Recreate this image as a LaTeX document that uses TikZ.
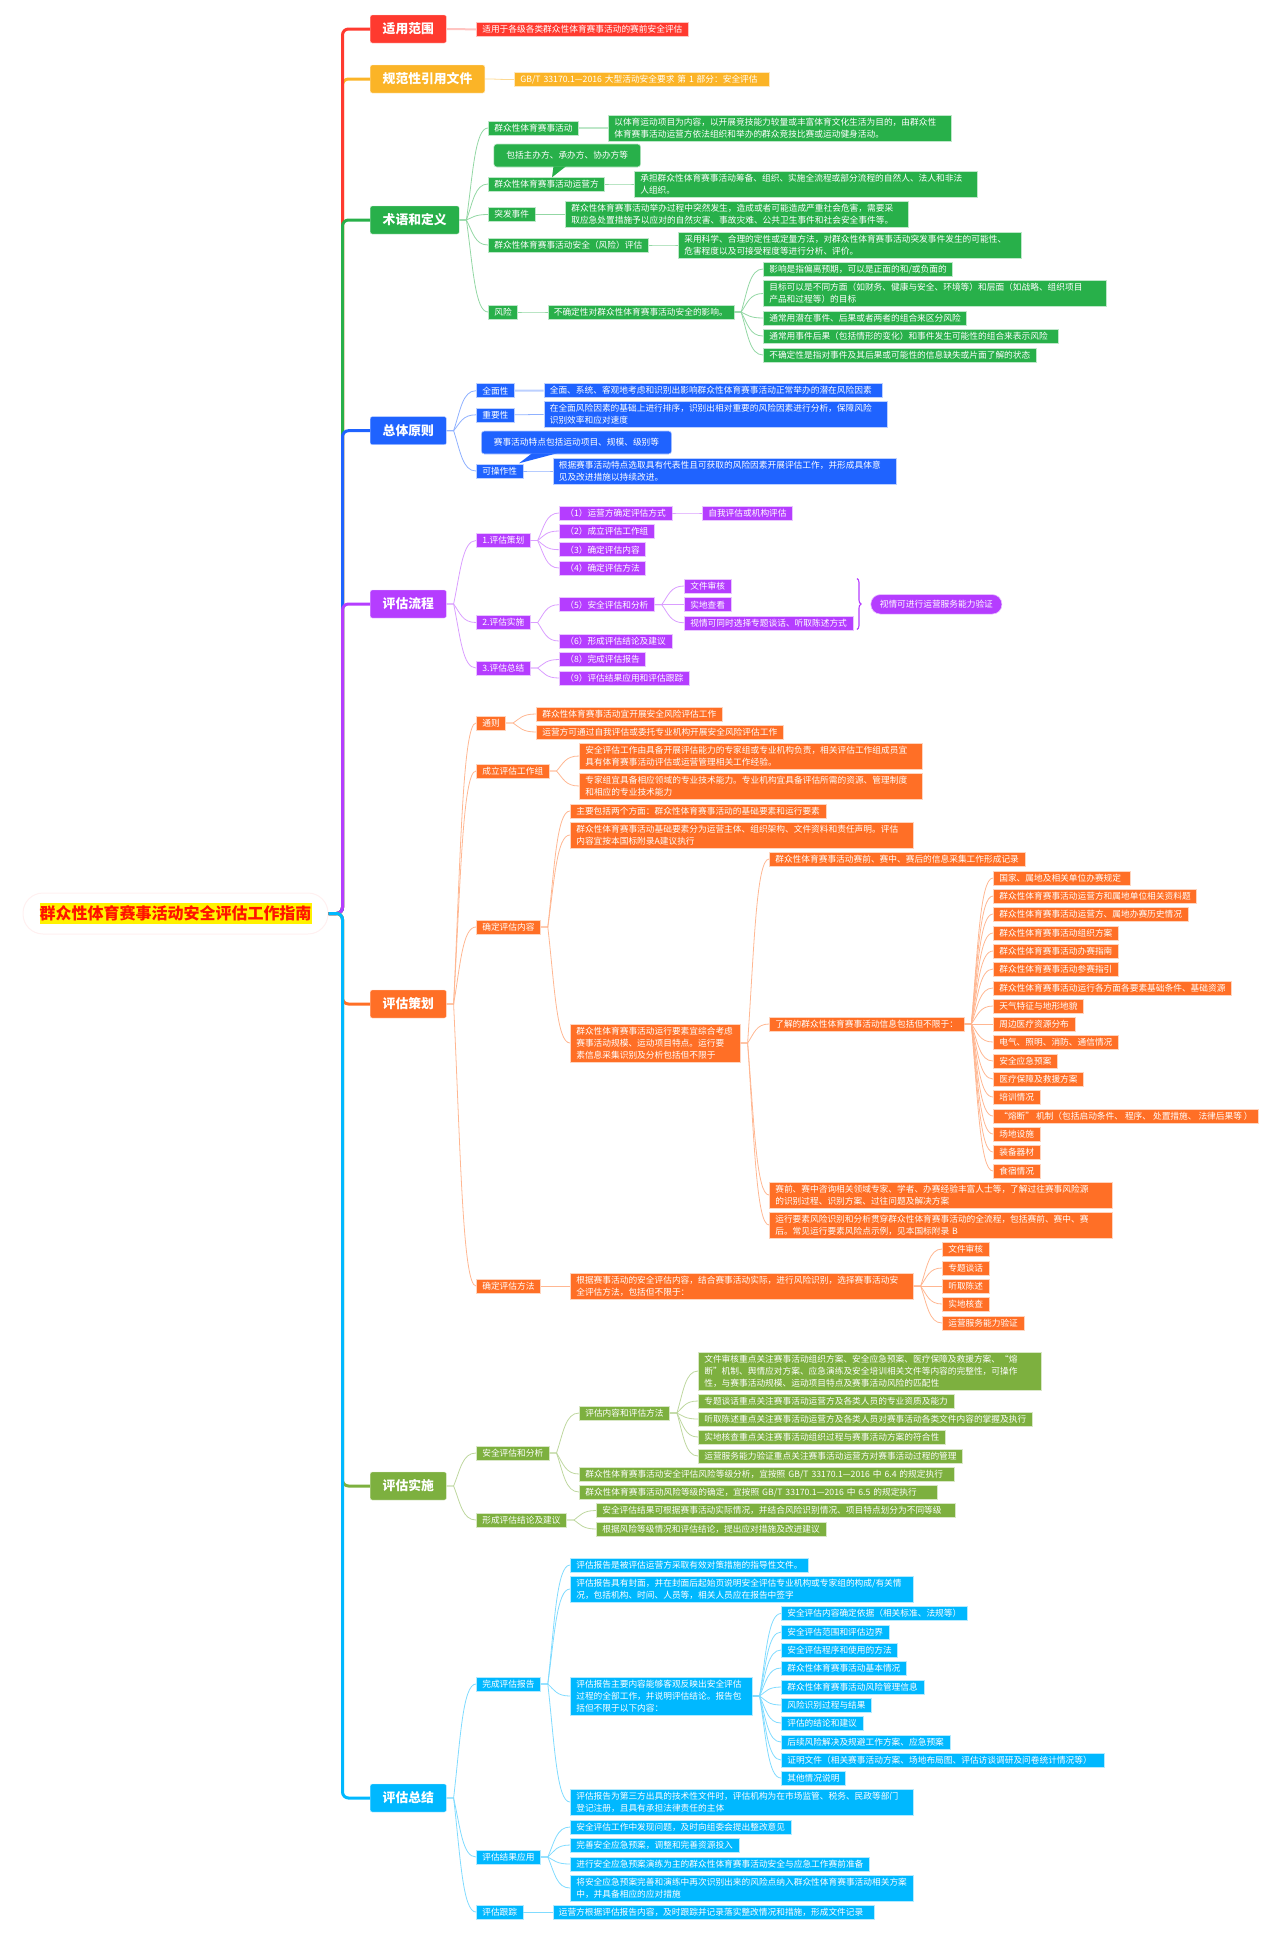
\documentclass[tikz,border=0pt]{standalone}
\usepackage{fontspec}
\setmainfont{Noto Sans CJK SC}
\usetikzlibrary{calc,decorations.pathreplacing}
\definecolor{redc}{HTML}{FF3A2F}
\definecolor{amberc}{HTML}{FBB427}
\definecolor{greenc}{HTML}{28B04A}
\definecolor{bluec}{HTML}{1F63FF}
\definecolor{purplec}{HTML}{B53DFF}
\definecolor{orangec}{HTML}{FF6F26}
\definecolor{olivec}{HTML}{7DB03F}
\definecolor{cyanc}{HTML}{00B8FF}
\newcommand{\itemstrut}{\rule[-2.7pt]{0pt}{12pt}}
\begin{document}
\begin{tikzpicture}[x=1pt,y=-1pt,
    topic/.style={anchor=west,fill=branch,draw=branch!25,rounded corners=2pt,text=white,inner xsep=12.5pt,inner ysep=0pt,minimum height=28pt,text height=11pt,text depth=1.2pt,font=\fontsize{12.8}{15}\selectfont\bfseries},
    item/.style={anchor=west,fill=branch,draw=branch!30,line width=0.6pt,text=white,inner xsep=6pt,inner ysep=1pt,minimum height=14pt,align=left,font=\fontsize{8.7}{12}\selectfont,execute at begin node=\itemstrut,execute at end node=\itemstrut},
    wrap/.style={text width=#1},
    note/.style={item,rounded corners=3pt,inner xsep=12.5pt,minimum height=23pt},
    pill/.style={item,rounded corners=9.5pt,inner xsep=9pt,minimum height=19.5pt},
    trunk/.style={draw=branch,line width=3pt,rounded corners=6pt,to path={(\tikztostart.east) -- ++(14,0) |- (\tikztotarget.west)}},
    twig/.style={draw=branch!50,line width=0.8pt,to path={let \p1=(\tikztostart.east), \p2=(\tikztotarget.west) in (\p1) -- (\x1+7,\y1) .. controls ({\x1+7+.3*(\x2-\x1-7)},{\y1+.5*(\y2-\y1)}) and ({\x1+7+.4*(\x2-\x1-7)},\y2) .. (\p2)}},
    bar/.style={twig,draw=branch!30,line width=2pt}]
    \useasboundingbox (0,0) rectangle (1280,1933);
    \node [fill=white,draw=red!6,line width=1pt,rounded corners=20pt,minimum width=305pt,minimum height=41pt,inner sep=0pt,font=\fontsize{16}{18}\selectfont\bfseries,text=red!85!orange] (0) at (175.5,913.5) {\fboxsep=0pt\colorbox{yellow}{\rule[-4.5pt]{0pt}{21pt}群众性体育赛事活动安全评估工作指南}};

    \colorlet{branch}{amberc}
    \node [topic] (2) at (370,79) {规范性引用文件};
    \node [item,wrap=242.5pt] (21) at (514,79.5) {GB/T 33170.1—2016 大型活动安全要求 第 1 部分：安全评估};
    \path (0) edge[trunk] (2) (2) edge[twig] (21);

    \colorlet{branch}{redc}
    \node [topic] (1) at (370,29) {适用范围};
    \node [item] (11) at (476,29.3) {适用于各级各类群众性体育赛事活动的赛前安全评估};
    \path (0) edge[trunk] (1) (1) edge[bar] (11);

    \colorlet{branch}{greenc}
    \node [topic] (3) at (370,220) {术语和定义};
    \node [item] (31) at (488,128) {群众性体育赛事活动};
    \node [item,wrap=331pt] (311) at (608,128) {以体育运动项目为内容，以开展竞技能力较量或丰富体育文化生活为目的，由群众性\\体育赛事活动运营方依法组织和举办的群众竞技比赛或运动健身活动。};
    \node [note] (32n) at (493.5,155.5) {包括主办方、承办方、协办方等};
    \node [item] (32) at (488,184) {群众性体育赛事活动运营方};
    \fill [branch] (32n.south west) ++(60,-1) -- ++(-1.5,11) -- ++(14,-11) -- cycle;
    \node [item,wrap=331pt] (321) at (634,184) {承担群众性体育赛事活动筹备、组织、实施全流程或部分流程的自然人、法人和非法\\人组织。};
    \node [item] (33) at (488,214.5) {突发事件};
    \node [item,wrap=331pt] (331) at (565,214.5) {群众性体育赛事活动举办过程中突然发生，造成或者可能造成严重社会危害，需要采\\取应急处置措施予以应对的自然灾害、事故灾难、公共卫生事件和社会安全事件等。};
    \node [item] (34) at (488,245) {群众性体育赛事活动安全（风险）评估};
    \node [item,wrap=331pt] (341) at (678,245) {采用科学、合理的定性或定量方法，对群众性体育赛事活动突发事件发生的可能性、\\危害程度以及可接受程度等进行分析、评价。};
    \node [item] (35) at (488,312) {风险};
    \node [item] (351) at (547.5,312) {不确定性对群众性体育赛事活动安全的影响。};
    \node [item] (3511) at (763,269) {影响是指偏离预期，可以是正面的和/或负面的};
    \node [item,wrap=331pt] (3512) at (763,293.5) {目标可以是不同方面（如财务、健康与安全、环境等）和层面（如战略、组织项目\\产品和过程等）的目标};
    \node [item] (3513) at (763,318) {通常用潜在事件、后果或者两者的组合来区分风险};
    \node [item,wrap=283pt] (3514) at (763,336) {通常用事件后果（包括情形的变化）和事件发生可能性的组合来表示风险};
    \node [item] (3515) at (763,355) {不确定性是指对事件及其后果或可能性的信息缺失或片面了解的状态};
    \path (0) edge[trunk] (3)
        (3) edge[twig] (31) (3) edge[twig] (32) (3) edge[twig] (33) (3) edge[twig] (34) (3) edge[twig] (35)
        (31) edge[bar] (311) (32) edge[twig] (321) (33) edge[twig] (331) (34) edge[twig] (341) (35) edge[twig] (351)
        (351) edge[twig] (3511) (351) edge[twig] (3512) (351) edge[twig] (3513) (351) edge[twig] (3514) (351) edge[twig] (3515);

    \colorlet{branch}{bluec}
    \node [topic] (4) at (370,430.7) {总体原则};
    \node [item] (41) at (476,390.7) {全面性};
    \node [item,wrap=326.5pt] (411) at (543.5,390.5) {全面、系统、客观地考虑和识别出影响群众性体育赛事活动正常举办的潜在风险因素};
    \node [item] (42) at (476,414.8) {重要性};
    \node [item,wrap=331pt] (421) at (543.5,414.5) {在全面风险因素的基础上进行排序，识别出相对重要的风险因素进行分析，保障风险\\识别效率和应对速度};
    \node [note] (43n) at (481,442.5) {赛事活动特点包括运动项目、规模、级别等};
    \node [item] (43) at (476,471) {可操作性};
    \fill [branch] (43n.south west) ++(51,-1) -- ++(-13,10) -- ++(38,-10) -- cycle;
    \node [item,wrap=331pt] (431) at (552.5,471) {根据赛事活动特点选取具有代表性且可获取的风险因素开展评估工作，并形成具体意\\见及改进措施以持续改进。};
    \path (0) edge[trunk] (4)
        (4) edge[twig] (41) (4) edge[twig] (42) (4) edge[twig] (43)
        (41) edge[bar] (411) (42) edge[twig] (421) (43) edge[twig] (431);

    \colorlet{branch}{purplec}
    \node [topic] (5) at (370,604) {评估流程};
    \node [item] (51) at (476,540.5) {1.评估策划};
    \node [item] (511) at (559,513) {（1）运营方确定评估方式};
    \node [item] (5111) at (702,513) {自我评估或机构评估};
    \node [item] (512) at (559,531) {（2）成立评估工作组};
    \node [item] (513) at (559,549.7) {（3）确定评估内容};
    \node [item] (514) at (559,568) {（4）确定评估方法};
    \node [item] (52) at (476,622.5) {2.评估实施};
    \node [item] (521) at (559,604.7) {（5）安全评估和分析};
    \node [item] (5211) at (684,586) {文件审核};
    \node [item] (5212) at (684,604.7) {实地查看};
    \node [item] (5213) at (684,622.8) {视情可同时选择专题谈话、听取陈述方式};
    \node [item] (522) at (559,641) {（6）形成评估结论及建议};
    \node [item] (53) at (476,668) {3.评估总结};
    \node [item] (531) at (559,659.5) {（8）完成评估报告};
    \node [item] (532) at (559,678) {（9）评估结果应用和评估跟踪};
    \node [pill] (5214) at (870.5,604.3) {视情可进行运营服务能力验证};
    \coordinate (5b1) at (857,578.5);
    \coordinate (5b2) at (857,629.5);
    \draw [branch,line width=1.1pt,decorate,decoration={brace,amplitude=4pt}] (5b1) -- (5b2);
    \path (0) edge[trunk] (5)
        (5) edge[twig] (51) (5) edge[twig] (52) (5) edge[twig] (53)
        (51) edge[twig] (511) (51) edge[twig] (512) (51) edge[twig] (513) (51) edge[twig] (514) (511) edge[twig] (5111)
        (52) edge[twig] (521) (52) edge[twig] (522) (521) edge[twig] (5211) (521) edge[twig] (5212) (521) edge[twig] (5213)
        (53) edge[twig] (531) (53) edge[twig] (532);

    \colorlet{branch}{orangec}
    \node [topic] (6) at (370,1004) {评估策划};
    \node [item] (61) at (476,723) {通则};
    \node [item] (611) at (536,714) {群众性体育赛事活动宜开展安全风险评估工作};
    \node [item] (612) at (536,732) {运营方可通过自我评估或委托专业机构开展安全风险评估工作};
    \node [item] (62) at (476,771) {成立评估工作组};
    \node [item,wrap=331pt] (621) at (579,756) {安全评估工作由具备开展评估能力的专家组或专业机构负责，相关评估工作组成员宜\\具有体育赛事活动评估或运营管理相关工作经验。};
    \node [item,wrap=331pt] (622) at (579,786) {专家组宜具备相应领域的专业技术能力。专业机构宜具备评估所需的资源、管理制度\\和相应的专业技术能力};
    \node [item] (63) at (476,927) {确定评估内容};
    \node [item] (631) at (570,811) {主要包括两个方面：群众性体育赛事活动的基础要素和运行要素};
    \node [item,wrap=331pt] (632) at (570,835) {群众性体育赛事活动基础要素分为运营主体、组织架构、文件资料和责任声明。评估\\内容宜按本国标附录A建议执行};
    \node [item,wrap=158pt] (633) at (570,1043) {群众性体育赛事活动运行要素宜综合考虑\\赛事活动规模、运动项目特点。运行要\\素信息采集识别及分析包括但不限于};
    \node [item] (6331) at (769,859) {群众性体育赛事活动赛前、赛中、赛后的信息采集工作形成记录};
    \node [item] (6332) at (769,1024) {了解的群众性体育赛事活动信息包括但不限于：};
    \node [item,wrap=125pt] (63321) at (993,878) {国家、属地及相关单位办赛规定};
    \node [item] (63322) at (993,896) {群众性体育赛事活动运营方和属地单位相关资料题};
    \node [item] (63323) at (993,914) {群众性体育赛事活动运营方、属地办赛历史情况};
    \node [item] (63324) at (993,933) {群众性体育赛事活动组织方案};
    \node [item] (63325) at (993,951) {群众性体育赛事活动办赛指南};
    \node [item] (63326) at (993,969) {群众性体育赛事活动参赛指引};
    \node [item] (63327) at (993,988) {群众性体育赛事活动运行各方面各要素基础条件、基础资源};
    \node [item] (63328) at (993,1006) {天气特征与地形地貌};
    \node [item] (63329) at (993,1024) {周边医疗资源分布};
    \node [item] (633210) at (993,1042) {电气、照明、消防、通信情况};
    \node [item] (633211) at (993,1061) {安全应急预案};
    \node [item] (633212) at (993,1079) {医疗保障及救援方案};
    \node [item] (633213) at (993,1097) {培训情况};
    \node [item] (633214) at (993,1116) {“熔断” 机制（包括启动条件、 程序、 处置措施、 法律后果等 ）};
    \node [item] (633215) at (993,1134) {场地设施};
    \node [item] (633216) at (993,1152) {装备器材};
    \node [item] (633217) at (993,1171) {食宿情况};
    \node [item,wrap=331pt] (6333) at (769,1195) {赛前、赛中咨询相关领域专家、学者、办赛经验丰富人士等，了解过往赛事风险源\\的识别过程、识别方案、过往问题及解决方案};
    \node [item,wrap=331pt] (6334) at (769,1225) {运行要素风险识别和分析贯穿群众性体育赛事活动的全流程，包括赛前、赛中、赛\\后。常见运行要素风险点示例，见本国标附录 B};
    \node [item] (64) at (476,1286) {确定评估方法};
    \node [item,wrap=331pt] (641) at (570,1286) {根据赛事活动的安全评估内容，结合赛事活动实际，进行风险识别，选择赛事活动安\\全评估方法，包括但不限于：};
    \node [item] (6411) at (942,1249) {文件审核};
    \node [item] (6412) at (942,1268) {专题谈话};
    \node [item] (6413) at (942,1286) {听取陈述};
    \node [item] (6414) at (942,1304) {实地核查};
    \node [item] (6415) at (942,1323) {运营服务能力验证};
    \path (0) edge[trunk] (6)
        (6) edge[twig] (61) (6) edge[twig] (62) (6) edge[twig] (63) (6) edge[twig] (64)
        (61) edge[twig] (611) (61) edge[twig] (612) (62) edge[twig] (621) (62) edge[twig] (622)
        (63) edge[twig] (631) (63) edge[twig] (632) (63) edge[twig] (633)
        (633) edge[twig] (6331) (633) edge[twig] (6332) (633) edge[twig] (6333) (633) edge[twig] (6334)
        (6332) edge[twig] (63321) (6332) edge[twig] (63322) (6332) edge[twig] (63323) (6332) edge[twig] (63324)
        (6332) edge[twig] (63325) (6332) edge[twig] (63326) (6332) edge[twig] (63327) (6332) edge[twig] (63328)
        (6332) edge[twig] (63329) (6332) edge[twig] (633210) (6332) edge[twig] (633211) (6332) edge[twig] (633212)
        (6332) edge[twig] (633213) (6332) edge[twig] (633214) (6332) edge[twig] (633215) (6332) edge[twig] (633216) (6332) edge[twig] (633217)
        (64) edge[twig] (641) (641) edge[twig] (6411) (641) edge[twig] (6412) (641) edge[twig] (6413) (641) edge[twig] (6414) (641) edge[twig] (6415);

    \colorlet{branch}{olivec}
    \node [topic] (7) at (370,1486) {评估实施};
    \node [item] (71) at (476,1453) {安全评估和分析};
    \node [item] (711) at (579,1413) {评估内容和评估方法};
    \node [item,wrap=331pt] (7111) at (698,1371) {文件审核重点关注赛事活动组织方案、安全应急预案、医疗保障及救援方案、“熔\\断”机制、舆情应对方案、应急演练及安全培训相关文件等内容的完整性，可操作\\性，与赛事活动规模、运动项目特点及赛事活动风险的匹配性};
    \node [item] (7112) at (698,1401) {专题谈话重点关注赛事活动运营方及各类人员的专业资质及能力};
    \node [item] (7113) at (698,1419) {听取陈述重点关注赛事活动运营方及各类人员对赛事活动各类文件内容的掌握及执行};
    \node [item] (7114) at (698,1437) {实地核查重点关注赛事活动组织过程与赛事活动方案的符合性};
    \node [item] (7115) at (698,1456) {运营服务能力验证重点关注赛事活动运营方对赛事活动过程的管理};
    \node [item,wrap=362.5pt] (712) at (579,1474) {群众性体育赛事活动安全评估风险等级分析，宜按照 GB/T 33170.1—2016 中 6.4 的规定执行};
    \node [item,wrap=346pt] (713) at (579,1492) {群众性体育赛事活动风险等级的确定，宜按照 GB/T 33170.1—2016 中 6.5 的规定执行};
    \node [item] (72) at (476,1520) {形成评估结论及建议};
    \node [item,wrap=346.5pt] (721) at (596,1510.5) {安全评估结果可根据赛事活动实际情况，并结合风险识别情况、项目特点划分为不同等级};
    \node [item] (722) at (596,1529) {根据风险等级情况和评估结论，提出应对措施及改进建议};
    \path (0) edge[trunk] (7)
        (7) edge[twig] (71) (7) edge[twig] (72)
        (71) edge[twig] (711) (71) edge[twig] (712) (71) edge[twig] (713)
        (711) edge[twig] (7111) (711) edge[twig] (7112) (711) edge[twig] (7113) (711) edge[twig] (7114) (711) edge[twig] (7115)
        (72) edge[twig] (721) (72) edge[twig] (722);

    \colorlet{branch}{cyanc}
    \node [topic] (8) at (370,1798) {评估总结};
    \node [item] (81) at (476,1684) {完成评估报告};
    \node [item] (811) at (570,1565) {评估报告是被评估运营方采取有效对策措施的指导性文件。};
    \node [item,wrap=331pt] (812) at (570,1589) {评估报告具有封面，并在封面后起始页说明安全评估专业机构或专家组的构成/有关情\\况，包括机构、时间、人员等，相关人员应在报告中签字};
    \node [item,wrap=170pt] (813) at (570,1696) {评估报告主要内容能够客观反映出安全评估\\过程的全部工作，并说明评估结论。报告包\\括但不限于以下内容：};
    \node [item] (8131) at (781,1613.5) {安全评估内容确定依据（相关标准、法规等）};
    \node [item] (8132) at (781,1632) {安全评估范围和评估边界};
    \node [item] (8133) at (781,1650) {安全评估程序和使用的方法};
    \node [item] (8134) at (781,1668) {群众性体育赛事活动基本情况};
    \node [item] (8135) at (781,1687) {群众性体育赛事活动风险管理信息};
    \node [item] (8136) at (781,1705) {风险识别过程与结果};
    \node [item] (8137) at (781,1723) {评估的结论和建议};
    \node [item] (8138) at (781,1742) {后续风险解决及规避工作方案、应急预案};
    \node [item,wrap=311pt] (8139) at (781,1760) {证明文件（相关赛事活动方案、场地布局图、评估访谈调研及问卷统计情况等）};
    \node [item] (81310) at (781,1778) {其他情况说明};
    \node [item,wrap=331pt] (814) at (570,1802) {评估报告为第三方出具的技术性文件时，评估机构为在市场监管、税务、民政等部门\\登记注册，且具有承担法律责任的主体};
    \node [item] (82) at (476,1857) {评估结果应用};
    \node [item] (821) at (570,1827) {安全评估工作中发现问题，及时向组委会提出整改意见};
    \node [item] (822) at (570,1845) {完善安全应急预案，调整和完善资源投入};
    \node [item] (823) at (570,1864) {进行安全应急预案演练为主的群众性体育赛事活动安全与应急工作赛前准备};
    \node [item,wrap=331pt] (824) at (570,1888) {将安全应急预案完善和演练中再次识别出来的风险点纳入群众性体育赛事活动相关方案\\中，并具备相应的应对措施};
    \node [item] (83) at (476,1912) {评估跟踪};
    \node [item,wrap=309pt] (831) at (552.5,1912) {运营方根据评估报告内容，及时跟踪并记录落实整改情况和措施，形成文件记录};
    \path (0) edge[trunk] (8)
        (8) edge[twig] (81) (8) edge[twig] (82) (8) edge[twig] (83)
        (81) edge[twig] (811) (81) edge[twig] (812) (81) edge[twig] (813) (81) edge[twig] (814)
        (813) edge[twig] (8131) (813) edge[twig] (8132) (813) edge[twig] (8133) (813) edge[twig] (8134) (813) edge[twig] (8135)
        (813) edge[twig] (8136) (813) edge[twig] (8137) (813) edge[twig] (8138) (813) edge[twig] (8139) (813) edge[twig] (81310)
        (82) edge[twig] (821) (82) edge[twig] (822) (82) edge[twig] (823) (82) edge[twig] (824)
        (83) edge[twig] (831);
\end{tikzpicture}
\end{document}
